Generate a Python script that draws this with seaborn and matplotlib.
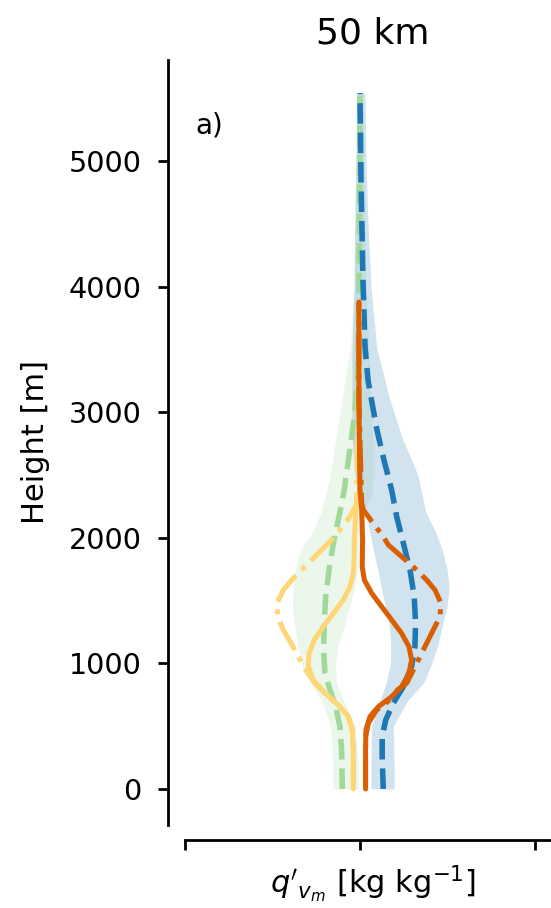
import numpy as np
import pandas as pd
import matplotlib
matplotlib.use("Agg")
import matplotlib.pyplot as plt
import seaborn as sns

# ---------------- data ----------------
# common height grid for the spread envelopes [m]
fill_h = [0, 250, 500, 700, 850, 1000, 1150, 1300, 1450, 1600, 1750, 1900,
          2050, 2200, 2350, 2500, 2800, 3100, 3500, 4000, 4500, 5000, 5540]
blue_lo = [0.063, 0.063, 0.067, 0.114, 0.151, 0.174, 0.176, 0.167, 0.146, 0.122, 0.101, 0.077,
           0.055, 0.034, 0.0, -0.029, -0.046, -0.046, -0.046, -0.034, -0.029, -0.023, -0.017]
blue_hi = [0.196, 0.194, 0.191, 0.271, 0.366, 0.410, 0.446, 0.471, 0.497, 0.509, 0.498, 0.471,
           0.431, 0.377, 0.354, 0.331, 0.240, 0.171, 0.097, 0.063, 0.046, 0.034, 0.029]
green_lo = [-0.153, -0.157, -0.169, -0.217, -0.286, -0.334, -0.357, -0.374, -0.386, -0.384, -0.369, -0.343,
            -0.269, -0.223, -0.194, -0.171, -0.137, -0.103, -0.057, -0.034, -0.029, -0.023, -0.017]
green_hi = [-0.010, -0.011, -0.026, -0.093, -0.134, -0.140, -0.123, -0.089, -0.060, -0.031, -0.011, -0.006,
            0.0, 0.017, 0.069, 0.074, 0.074, 0.063, 0.051, 0.034, 0.029, 0.023, 0.017]

blue_h = [0, 257, 416, 549, 682, 815, 974, 1133, 1319, 1531, 1744, 1956, 2168, 2381, 2620, 2858, 3121,
          3256, 3519, 4053, 4849, 5540]
blue_x = [0.133, 0.127, 0.127, 0.147, 0.190, 0.248, 0.295, 0.314, 0.318, 0.310, 0.286, 0.248, 0.210,
          0.181, 0.137, 0.097, 0.063, 0.046, 0.029, 0.017, 0.006, 0.0]

green_h = [0, 311, 496, 655, 788, 921, 1107, 1319, 1531, 1744, 1956, 2168, 2381, 2580, 2780, 2990,
           3260, 3890, 4500, 5540]
green_x = [-0.101, -0.105, -0.114, -0.139, -0.171, -0.200, -0.208, -0.204, -0.196, -0.177, -0.152, -0.120,
           -0.090, -0.070, -0.050, -0.030, -0.014, -0.006, -0.003, 0.0]

orange_h = [0, 311, 470, 576, 655, 735, 815, 921, 1027, 1133, 1240, 1346, 1452, 1558, 1664, 1770,
            1983, 2221, 2381, 3097, 3877]
orange_x = [0.032, 0.032, 0.034, 0.057, 0.105, 0.181, 0.238, 0.280, 0.295, 0.280, 0.238, 0.181, 0.124,
            0.067, 0.025, 0.013, 0.015, 0.010, 0.0, -0.006, -0.006]

orange_dd_h = [0, 416, 523, 629, 709, 792, 842, 947, 1053, 1160, 1266, 1372, 1478, 1584, 1664, 1744,
               1850, 1943, 2009, 2115, 2221, 2277, 3097, 3877]
orange_dd_x = [0.032, 0.032, 0.048, 0.095, 0.171, 0.217, 0.267, 0.305, 0.343, 0.381, 0.419, 0.457, 0.463,
               0.429, 0.381, 0.324, 0.238, 0.162, 0.133, 0.076, 0.019, 0.010, -0.006, -0.006]

yellow_h = [0, 311, 470, 576, 655, 762, 868, 974, 1080, 1186, 1292, 1399, 1505, 1611, 1718, 1850,
            1983, 2168, 2275, 2381, 3877]
yellow_x = [-0.038, -0.038, -0.044, -0.067, -0.114, -0.200, -0.267, -0.295, -0.291, -0.261, -0.210,
            -0.152, -0.095, -0.057, -0.038, -0.033, -0.033, -0.025, -0.019, -0.004, -0.003]

yellow_dd_h = [0, 311, 470, 576, 655, 762, 842, 947, 1053, 1160, 1266, 1372, 1478, 1584, 1664, 1744,
               1850, 1956, 2062, 2168, 2275, 3877]
yellow_dd_x = [-0.038, -0.038, -0.044, -0.067, -0.114, -0.200, -0.257, -0.310, -0.352, -0.394, -0.438,
               -0.470, -0.475, -0.438, -0.390, -0.333, -0.257, -0.181, -0.114, -0.057, -0.019, -0.003]

x_ticks = [-1, 0, 1]
y_ticks = [0, 1000, 2000, 3000, 4000, 5000]

# ---------------- style ----------------
sns.set_style("ticks")
plt.rcParams["font.family"] = ["DejaVu Sans"]
plt.rcParams["font.size"] = 10
for k in ["text.color", "axes.labelcolor", "xtick.color", "ytick.color", "axes.edgecolor"]:
    plt.rcParams[k] = "black"

BLUE = "#1f77b4"
GREEN = "#a1d99b"
ORANGE = "#d95f02"
YELLOW = "#fed676"

W, H = 551, 908
fig = plt.figure(figsize=(W / 200, H / 200), dpi=200)
ax = fig.add_axes([185 / W, (H - 825) / H, 376 / W, 765 / H])

# envelopes
ax.fill_betweenx(fill_h, green_lo, green_hi, color=GREEN, alpha=0.2, lw=0, zorder=1)
ax.fill_betweenx(fill_h, blue_lo, blue_hi, color=BLUE, alpha=0.2, lw=0, zorder=1)

def prof(xv, hv, color, ls, lw, z):
    df = pd.DataFrame({"x": xv, "h": hv})
    sns.lineplot(data=df, x="x", y="h", orient="y", estimator=None, sort=True,
                 color=color, linestyle=ls, lw=lw, ax=ax, zorder=z)

prof(green_x, green_h, GREEN, "--", 2.0, 2)
prof(blue_x, blue_h, BLUE, "--", 2.0, 3)
prof(yellow_dd_x, yellow_dd_h, YELLOW, "-.", 1.8, 4)
prof(yellow_x, yellow_h, YELLOW, "-", 1.8, 4)
prof(orange_dd_x, orange_dd_h, ORANGE, "-.", 1.8, 5)
prof(orange_x, orange_h, ORANGE, "-", 1.8, 5)

ax.set_xlim(-1.0, 1.149)
ax.set_ylim(-287, 5804)
ax.set_xticks(x_ticks)
ax.set_xticklabels([])
ax.set_yticks(y_ticks)
ax.set_yticklabels([str(t) for t in y_ticks])

for s in ["top", "right"]:
    ax.spines[s].set_visible(False)
ax.spines["left"].set_position(("outward", 17 * 72 / 200))
ax.spines["bottom"].set_position(("outward", 15 * 72 / 200))
ax.spines["bottom"].set_bounds(-1.0, 1.149)
for s in ["left", "bottom"]:
    ax.spines[s].set_linewidth(1.0)
    ax.spines[s].set_color("black")
ax.tick_params(colors="black", width=1.0, length=3.5)
ax.tick_params(axis="y", pad=6, labelsize=10.3)

ax.set_ylabel("Height [m]", fontsize=11)
ax.yaxis.set_label_coords(-0.359, 0.5)
ax.set_xlabel(r"$q'_{v_m}$ [kg kg$^{-1}$]", fontsize=11, labelpad=1.5)
ax.set_title("50 km", fontsize=13)
ax.text(0.027, 0.914, "a)", transform=ax.transAxes, ha="left", va="center")

fig.savefig("out.png", dpi=200)
